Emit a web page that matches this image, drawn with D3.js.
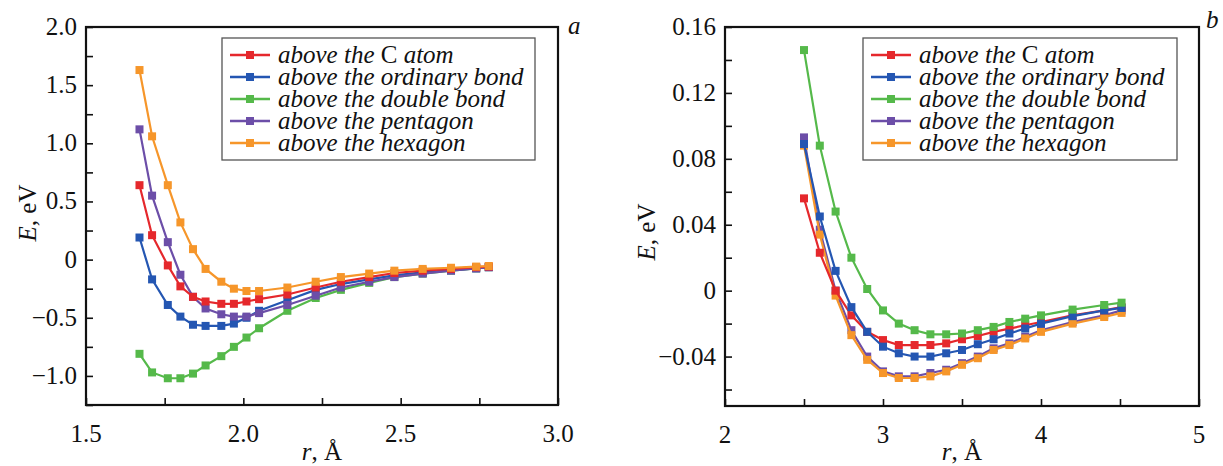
<!DOCTYPE html>
<html>
<head>
<meta charset="utf-8">
<script src="https://cdn.jsdelivr.net/npm/d3@7"></script>
</head>
<body style="margin:0">
<svg id="chart"></svg>
<script>
// ---- data ----
const seriesNames = ["above the C atom", "above the ordinary bond", "above the double bond",
                     "above the pentagon", "above the hexagon"];
const seriesColors = ["#e5282c", "#2456b2", "#55b94a", "#6c4ea8", "#f6962a"];

// panel a
const rA = [1.67, 1.71, 1.76, 1.80, 1.84, 1.88, 1.93, 1.97, 2.01, 2.05, 2.14, 2.23, 2.31, 2.40, 2.48, 2.57, 2.66, 2.74, 2.78];
const atomA     = [0.64, 0.21, -0.05, -0.23, -0.32, -0.36, -0.38, -0.38, -0.36, -0.34, -0.30, -0.24, -0.19, -0.15, -0.115, -0.095, -0.08, -0.065, -0.06];
const ordinaryA = [0.19, -0.17, -0.39, -0.49, -0.56, -0.57, -0.57, -0.55, -0.50, -0.44, -0.35, -0.26, -0.21, -0.17, -0.135, -0.11, -0.09, -0.075, -0.065];
const doubleA   = [-0.81, -0.97, -1.02, -1.02, -0.98, -0.91, -0.83, -0.75, -0.67, -0.59, -0.44, -0.33, -0.26, -0.20, -0.15, -0.12, -0.095, -0.075, -0.065];
const pentagonA = [1.12, 0.55, 0.15, -0.13, -0.32, -0.42, -0.47, -0.49, -0.49, -0.46, -0.39, -0.31, -0.24, -0.19, -0.15, -0.12, -0.095, -0.075, -0.065];
const hexagonA  = [1.63, 1.06, 0.64, 0.32, 0.09, -0.08, -0.19, -0.25, -0.27, -0.27, -0.24, -0.19, -0.15, -0.12, -0.095, -0.08, -0.07, -0.06, -0.055];

// panel b
const rB = [2.5, 2.6, 2.7, 2.8, 2.9, 3.0, 3.1, 3.2, 3.3, 3.4, 3.5, 3.6, 3.7, 3.8, 3.9, 4.0, 4.2, 4.4, 4.51];
const atomB     = [0.056, 0.023, 0.000, -0.015, -0.025, -0.030, -0.033, -0.033, -0.033, -0.032, -0.0295, -0.0275, -0.025, -0.023, -0.021, -0.019, -0.015, -0.012, -0.010];
const ordinaryB = [0.089, 0.045, 0.012, -0.010, -0.025, -0.034, -0.038, -0.040, -0.040, -0.038, -0.036, -0.0325, -0.0295, -0.026, -0.023, -0.020, -0.0155, -0.012, -0.0105];
const doubleB   = [0.146, 0.088, 0.048, 0.020, 0.001, -0.012, -0.020, -0.024, -0.0265, -0.0265, -0.026, -0.024, -0.022, -0.019, -0.017, -0.015, -0.0115, -0.0087, -0.0073];
const pentagonB = [0.093, 0.037, 0.000, -0.024, -0.040, -0.049, -0.052, -0.052, -0.050, -0.048, -0.044, -0.040, -0.035, -0.032, -0.028, -0.024, -0.019, -0.015, -0.012];
const hexagonB  = [0.088, 0.034, -0.003, -0.027, -0.042, -0.050, -0.053, -0.053, -0.052, -0.049, -0.045, -0.041, -0.036, -0.033, -0.029, -0.025, -0.020, -0.016, -0.0135];

// axis ticks
const xTicksA = [1.5, 2.0, 2.5, 3.0], xMinorA = [1.75, 2.25, 2.75];
const yTicksA = [-1.0, -0.5, 0, 0.5, 1.0, 1.5, 2.0], yMinorA = [-1.25, -0.75, -0.25, 0.25, 0.75, 1.25, 1.75];
const xTicksB = [2, 3, 4, 5], xMinorB = [2.5, 3.5, 4.5];
const yTicksB = [-0.04, 0, 0.04, 0.08, 0.12, 0.16], yMinorB = [-0.06, -0.02, 0.02, 0.06, 0.10, 0.14];

const FONT = "Liberation Serif";
const W = 1223, H = 466;
const svg = d3.select("#chart").attr("width", W).attr("height", H)
  .attr("font-family", FONT);
svg.append("rect").attr("width", W).attr("height", H).attr("fill", "#fff");

const minus = s => s.replace("-", "\u2212");

// plain text helper, font set right on the element
function txt(parent, size, italic) {
  return parent.append("text")
    .attr("font-family", FONT).attr("font-size", size)
    .attr("font-style", italic ? "italic" : "normal")
    .attr("fill", "#111");
}

function drawPanel(p) {
  const x = d3.scaleLinear().domain(p.xDomain).range([p.left, p.right]);
  const y = d3.scaleLinear().domain(p.yDomain).range([p.bottom, p.top]);
  const g = svg.append("g");

  // ticks (pointing inward), labels drawn by hand
  g.append("g").attr("transform", `translate(0,${p.bottom})`)
    .call(d3.axisBottom(x).tickValues(p.xTicks.concat(p.xMinor)).tickSizeInner(-7).tickSizeOuter(0).tickFormat(""));
  g.append("g").attr("transform", `translate(${p.left},0)`)
    .call(d3.axisLeft(y).tickValues(p.yTicks.concat(p.yMinor)).tickSizeInner(-7).tickSizeOuter(0).tickFormat(""));
  g.selectAll(".domain").remove();
  g.selectAll(".tick text").remove();
  g.selectAll(".tick line").attr("stroke", "#111").attr("stroke-width", 1.6);

  p.xTicks.forEach(v => {
    txt(g, 25, false).attr("x", x(v)).attr("y", p.bottom + 37)
      .attr("text-anchor", "middle").text(p.xFormat(v));
  });
  p.yTicks.forEach(v => {
    txt(g, 25, false).attr("x", p.left - 9).attr("y", y(v) + 8)
      .attr("text-anchor", "end").text(v === 0 ? "0" : minus(p.yFormat(v)));
  });

  // frame
  g.append("rect")
    .attr("x", p.left).attr("y", p.top)
    .attr("width", p.right - p.left).attr("height", p.bottom - p.top)
    .attr("fill", "none").attr("stroke", "#111").attr("stroke-width", 2.2);

  // series
  const line = d3.line().x(d => x(d[0])).y(d => y(d[1]));
  p.order.forEach(i => {
    const pts = p.r.map((r, j) => [r, p.series[i][j]]);
    const s = g.append("g");
    s.append("path").datum(pts).attr("d", line)
      .attr("fill", "none").attr("stroke", seriesColors[i]).attr("stroke-width", 2.2);
    s.selectAll("rect").data(pts).join("rect")
      .attr("x", d => x(d[0]) - 4).attr("y", d => y(d[1]) - 4)
      .attr("width", 8).attr("height", 8)
      .attr("fill", seriesColors[i]);
  });

  // legend
  const lg = g.append("g");
  lg.append("rect").attr("x", p.legend[0]).attr("y", p.legend[1])
    .attr("width", p.legend[2]).attr("height", p.legend[3])
    .attr("fill", "#fff").attr("stroke", "#555").attr("stroke-width", 1.3);
  seriesNames.forEach((name, i) => {
    const ly = p.legend[1] + 17 + i * 22;
    const lx = p.legend[0] + 8;
    lg.append("line").attr("x1", lx).attr("x2", lx + 40).attr("y1", ly).attr("y2", ly)
      .attr("stroke", seriesColors[i]).attr("stroke-width", 2.4);
    lg.append("rect").attr("x", lx + 16).attr("y", ly - 4).attr("width", 8).attr("height", 8)
      .attr("fill", seriesColors[i]);
    const t = txt(lg, 25, true).attr("x", lx + 48).attr("y", ly + 8);
    if (i === 0) {
      t.append("tspan").text("above the ");
      t.append("tspan").attr("font-style", "normal").text("C");
      t.append("tspan").text(" atom");
    } else {
      t.text(name);
    }
  });

  // axis titles
  const yt = txt(svg, 25, false)
    .attr("transform", `translate(${p.yTitle[0]},${p.yTitle[1]}) rotate(-90)`)
    .attr("text-anchor", "middle");
  yt.append("tspan").attr("font-style", "italic").text("E");
  yt.append("tspan").text(", eV");
  const xt = txt(svg, 25, false).attr("x", (p.left + p.right) / 2).attr("y", 460)
    .attr("text-anchor", "middle");
  xt.append("tspan").attr("font-style", "italic").text("r");
  xt.append("tspan").text(", \u00c5");

  txt(svg, 25, true).attr("x", p.letter[0]).attr("y", p.letter[1]).text(p.letterText);
}

drawPanel({
  left: 86, right: 558, top: 27, bottom: 405,
  xDomain: [1.5, 3.0], yDomain: [-1.25, 2.0],
  xTicks: xTicksA, xMinor: xMinorA, yTicks: yTicksA, yMinor: yMinorA,
  xFormat: d3.format(".1f"), yFormat: d3.format(".1f"),
  r: rA, series: [atomA, ordinaryA, doubleA, pentagonA, hexagonA],
  order: [2, 1, 3, 0, 4],
  legend: [222, 38, 313, 122],
  yTitle: [36, 213], letter: [568, 34], letterText: "a"
});

drawPanel({
  left: 725, right: 1199, top: 27, bottom: 406,
  xDomain: [2, 5], yDomain: [-0.07, 0.16],
  xTicks: xTicksB, xMinor: xMinorB, yTicks: yTicksB, yMinor: yMinorB,
  xFormat: d3.format("d"), yFormat: d3.format(".2f"),
  r: rB, series: [atomB, ordinaryB, doubleB, pentagonB, hexagonB],
  order: [3, 4, 0, 1, 2],
  legend: [863, 38, 314, 122],
  yTitle: [655, 232], letter: [1206, 28], letterText: "b"
});
</script>
</body>
</html>
